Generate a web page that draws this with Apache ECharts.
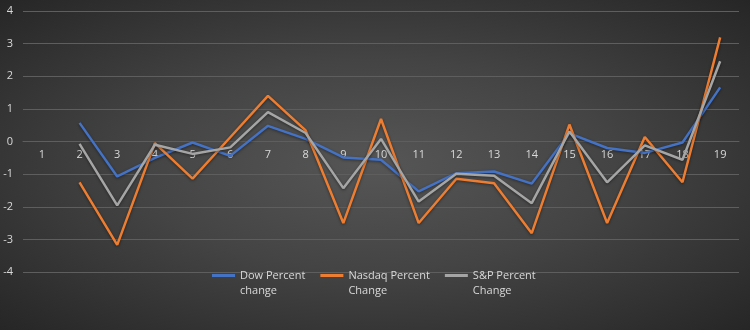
<!DOCTYPE html>
<html>
<head>
<meta charset="utf-8">
<script src="https://cdn.jsdelivr.net/npm/echarts@6/dist/echarts.min.js"></script>
<style>
html,body{margin:0;padding:0;}
#chart{width:750px;height:330px;background:radial-gradient(ellipse farthest-corner at 50% 50%, #565656 0%, #444444 45%, #262626 100%);}
</style>
</head>
<body>
<div id="chart"></div>
<script>
const categories = ['1','2','3','4','5','6','7','8','9','10','11','12','13','14','15','16','17','18','19'];
const yTicks = [-4,-3,-2,-1,0,1,2,3,4];
const seriesNames = ['Dow Percent change','Nasdaq Percent Change','S&P Percent Change'];
const dow = ['-',0.57,-1.07,-0.5,-0.03,-0.44,0.48,0.08,-0.49,-0.56,-1.53,-0.97,-0.92,-1.29,0.25,-0.2,-0.35,-0.03,1.66];
const nasdaq = ['-',-1.25,-3.17,-0.05,-1.14,0.13,1.4,0.34,-2.5,0.69,-2.5,-1.14,-1.28,-2.81,0.52,-2.5,0.14,-1.25,3.19];
const sp = ['-',-0.07,-1.96,-0.1,-0.38,-0.18,0.9,0.26,-1.43,0.08,-1.84,-0.99,-1.05,-1.89,0.31,-1.25,-0.12,-0.56,2.46];
const colors = ['#4472C4','#ED7D31','#A5A5A5'];

const chart = echarts.init(document.getElementById('chart'));
const textColor = '#d9d9d9';
const gridColor = '#5e5e5e';
const font = 'Open Sans';
function mk(name, data, color){
  return {
    name: name, type: 'line', data: data, showSymbol: false, symbol: 'none',
    lineStyle: {width: 2.5, color: color, shadowColor: 'rgba(0,0,0,0.45)', shadowBlur: 3, shadowOffsetY: 1},
    itemStyle: {color: color}
  };
}
chart.setOption({
  backgroundColor: 'transparent',
  animation: false,
  color: colors,
  grid: {left: 23, right: 11, top: 11, bottom: 58, containLabel: false},
  legend: {
    left: 207, top: 248, itemWidth: 23, itemHeight: 3, itemGap: 15,
    icon: 'rect',
    data: seriesNames,
    formatter: function(n){ return '\u00a0\n' + n.replace(/ (\S+)$/, '\n$1'); },
    textStyle: {color: textColor, fontFamily: font, fontSize: 11, lineHeight: 15}
  },
  xAxis: {
    type: 'category', data: categories, boundaryGap: true, position: 'bottom', offset: -130.5,
    axisLine: {onZero: false, lineStyle: {color: gridColor}},
    axisTick: {show: false},
    axisLabel: {color: textColor, fontFamily: font, fontSize: 11, margin: 8},
    splitLine: {show: false}
  },
  yAxis: {
    type: 'value', min: yTicks[0], max: yTicks[yTicks.length-1], interval: 1,
    axisLine: {show: false}, axisTick: {show: false},
    axisLabel: {color: textColor, fontFamily: font, fontSize: 11, margin: 10},
    splitLine: {lineStyle: {color: gridColor, width: 1}}
  },
  series: [mk(seriesNames[0], dow, colors[0]), mk(seriesNames[1], nasdaq, colors[1]), mk(seriesNames[2], sp, colors[2])]
});
</script>
</body>
</html>
